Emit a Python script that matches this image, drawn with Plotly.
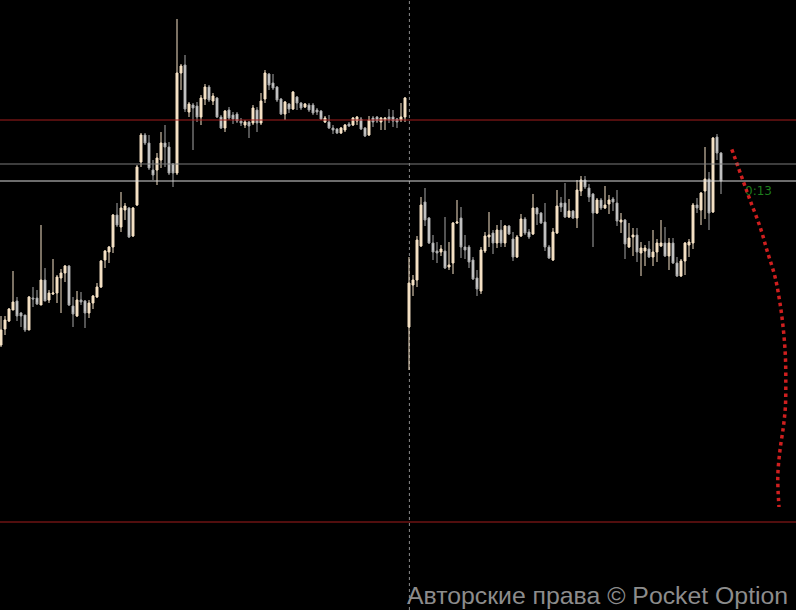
import plotly.graph_objects as go

# ---- candle data (price units, higher = up) ----
open_ = [255,271,279,290,299,287,285,270,302,302, 295,320,300,306,307,322,327,334,294,284,
         300,299,287,297,303,313,340,348,353,385, 373,390,392,364,395,438,465,457,430,430,
         440,457,453,436,427,527,535,488,495,494, 483,501,513,499,502,483,472,490,485,486,
         479,475,478,477,490,477,501,526,517,513, 501,486,496,491,503,497,493,495,495,490,
         489,478,478,472,471,467,470,476,475,479, 481,472,465,482,483,478,480,483,483,481,
         480,483,273,315,320,354,398,382,357,349, 348,349,333,337,377,382,353,353,340,322,
         309,349,363,367,357,370,357,374,361,343, 364,381,368,366,392,387,378,353,340,367,
         397,397,383,389,382,409,420,412,406,387, 400,392,396,401,397,378,380,353,363,365,
         347,349,351,343,348,354,357,344,357,337, 324,339,355,357,395,390,409,421,388,463,
         447]
high = [284,284,292,329,303,288,285,304,313,310, 375,332,310,341,325,331,335,335,303,309,
        308,300,300,305,317,340,350,354,386,397, 408,397,393,393,435,467,467,465,440,447,
        468,475,458,437,581,536,545,498,497,498, 505,516,515,507,503,485,490,493,488,488,
        482,480,479,495,493,507,530,527,526,514, 502,499,497,509,504,498,497,497,497,492,
        490,484,485,475,472,473,476,478,483,484, 483,473,484,484,484,483,483,491,490,482,
        497,503,343,325,364,403,412,383,365,358, 355,383,358,378,400,393,365,355,343,330,
        353,368,388,370,375,380,375,375,368,365, 386,383,371,406,393,388,397,355,372,410,
        403,417,401,390,420,424,424,416,407,402, 402,414,405,403,410,387,381,377,372,372,
        358,355,359,370,361,380,373,362,362,343, 341,358,361,397,402,408,453,428,463,466,
        448]
low = [253,265,278,290,279,273,268,270,293,295, 295,299,297,305,297,287,318,294,273,283,
       295,272,282,291,302,312,332,337,347,373, 368,380,362,363,394,433,455,430,420,415,
       432,433,425,413,425,510,488,483,450,478, 475,495,498,495,482,471,468,480,476,477,
       474,472,462,475,468,475,497,510,510,498, 485,480,487,490,490,490,492,488,485,485,
       480,477,471,466,466,466,468,473,474,475, 470,463,464,473,477,470,470,477,473,472,
       478,478,230,304,313,353,374,356,340,337, 344,331,330,326,376,342,341,332,320,304,
       306,347,353,346,352,353,353,365,339,342, 363,365,361,365,375,376,349,341,339,366,
       388,382,382,381,372,404,411,398,353,386, 390,391,386,389,374,367,341,352,344,338,
       324,334,342,334,338,353,343,330,336,323, 323,325,343,351,387,375,381,370,387,440,
       406]
close = [270,280,291,298,284,284,270,303,301,296, 320,299,307,307,323,327,334,295,286,300,
         298,287,297,304,313,339,349,353,385,375, 392,394,363,392,433,465,457,432,425,442,
         457,453,427,427,527,534,491,496,492,483, 502,513,500,504,483,472,489,482,481,479,
         477,478,474,492,477,499,527,515,512,500, 486,498,491,508,497,492,496,490,487,488,
         481,482,472,470,467,472,475,474,482,483, 471,464,480,478,479,482,482,480,479,478,
         483,502,317,320,360,395,380,357,348,347, 351,332,335,377,378,353,350,338,321,311,
         350,364,365,357,370,357,374,366,343,363, 381,367,363,392,386,377,353,342,368,394,
         393,383,389,382,410,420,413,403,387,400, 392,395,400,398,379,380,356,362,365,348,
         352,352,343,348,357,357,344,357,337,324, 339,357,358,395,392,407,421,387,462,447,
         419]
bar_index = list(range(len(open_)))

# horizontal levels
level_prices = [480, 436, 419, 78]
level_colors = ["#a31c1c", "#7a7a7a", "#d9d9d9", "#a31c1c"]

# session separator (bar index)
separator_index = 102.1

# forecast dotted curve
forecast_x = [182.7, 185.6, 187.25, 189.75, 191.6, 193.5, 194.75, 195.6, 196.1, 196.2,
              196.1, 195.6, 194.75, 194.2, 194.5]
forecast_y = [450.7, 418.3, 400.0, 373.3, 348.3, 323.3, 296.7, 270.0, 243.3, 217.0,
              193.3, 173.3, 150.0, 123.3, 93.0]

timer_text = "0:13"
timer_pos = (186.0, 408)

watermark = "Авторские права © Pocket Option"

fig = go.Figure()

fig.add_trace(go.Scatter(
    x=[timer_pos[0]], y=[timer_pos[1]], mode="text", text=[timer_text],
    textposition="middle right",
    textfont=dict(family="DejaVu Sans, Arial", size=12, color="#1d7d1d"),
    hoverinfo="skip"))

fig.add_trace(go.Candlestick(
    x=bar_index, open=open_, high=high, low=low, close=close,
    increasing=dict(fillcolor="#f6e2c6", line=dict(color="#f6e2c6", width=1)),
    decreasing=dict(fillcolor="#e2e2e2", line=dict(color="#a6a6a6", width=1)),
    whiskerwidth=0))

fig.add_trace(go.Scatter(
    x=forecast_x, y=forecast_y, mode="lines",
    line=dict(color="#cf1f1f", width=3.5, dash="3.5px,3.5px", shape="spline", smoothing=1.0),
    hoverinfo="skip"))

shapes = []
for p, c in zip(level_prices, level_colors):
    shapes.append(dict(type="line", xref="paper", x0=0, x1=1, yref="y", y0=p, y1=p,
                       line=dict(color=c, width=1)))
shapes.append(dict(type="line", xref="x", x0=separator_index, x1=separator_index,
                   yref="paper", y0=0, y1=1,
                   line=dict(color="#8a8a8a", width=1, dash="3px,3px"), layer="below"))

fig.update_layout(
    width=796, height=610, autosize=False,
    margin=dict(l=0, r=0, t=0, b=0),
    paper_bgcolor="#000000", plot_bgcolor="#000000",
    showlegend=False,
    shapes=shapes,
    xaxis=dict(range=[-0.25, 198.75], visible=False, rangeslider=dict(visible=False), fixedrange=True),
    yaxis=dict(range=[-10, 600], visible=False, fixedrange=True),
    annotations=[dict(text=watermark, xref="paper", yref="paper", x=0.993, y=0.024,
                      xanchor="right", yanchor="middle", showarrow=False,
                      font=dict(family="Liberation Sans, Arial", size=24.8, color="#8c8c8c"))],
)

fig.write_html("out.html", config={"displayModeBar": False},
               post_script="document.body.style.margin='0';document.body.style.background='#000';")
